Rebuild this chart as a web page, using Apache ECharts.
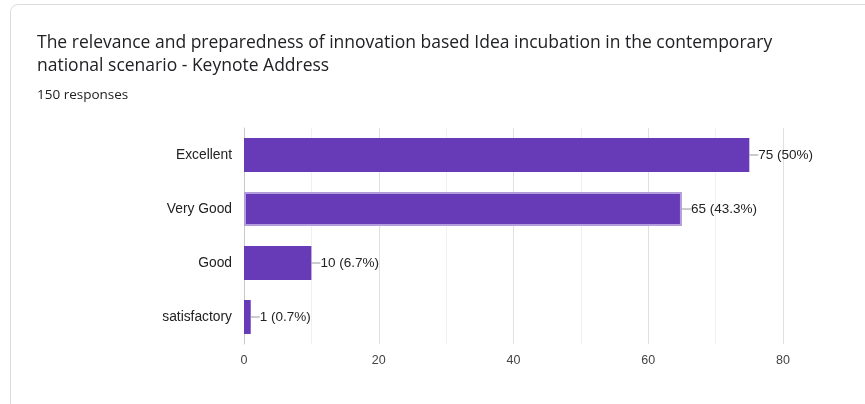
<!DOCTYPE html>
<html><head><meta charset="utf-8">
<script src="https://cdn.jsdelivr.net/npm/echarts@6/dist/echarts.min.js"></script>
<style>
html,body{margin:0;padding:0;background:#fff;}
#card{position:absolute;left:10px;top:4px;width:870px;height:420px;border:1px solid #dadce0;border-radius:8px;}
#c{position:absolute;left:0;top:0;width:865px;height:404px;}
</style></head><body>
<div id="card"></div>
<div id="c"></div>
<script>
var titleLines = ['The relevance and preparedness of innovation based Idea incubation in the contemporary', 'national scenario - Keynote Address'];
var subtitle = '150 responses';
var categories = ['Excellent', 'Very Good', 'Good', 'satisfactory'];
var counts = [75, 65, 10, 1];
var percents = ['50%', '43.3%', '6.7%', '0.7%'];
var ticks = [0, 20, 40, 60, 80];

var chart = echarts.init(document.getElementById('c'), null, {renderer:'canvas'});
var data = counts.map(function(v, i){
  var d = {value: v};
  if (i === 1) {
    d.itemStyle = {borderColor: '#b39ddb', borderWidth: 2};
  }
  return d;
});
chart.setOption({
  animation: false,
  title: [{
    text: titleLines.join('\n'), left: 37, top: 32, padding: 0,
    textStyle: {fontFamily: 'Open Sans', fontSize: 17.5, fontWeight: 'normal', color: '#202124', lineHeight: 23}
  },{
    text: subtitle, left: 37, top: 88, padding: 0,
    textStyle: {fontFamily: 'Open Sans', fontSize: 13.5, fontWeight: 'normal', color: '#202124'}
  }],
  grid: {left: 244, right: 82, top: 128, bottom: 60, containLabel: false},
  xAxis: {
    type: 'value', min: 0, max: 80, interval: 10,
    axisLine: {show: false}, axisTick: {show: false},
    axisLabel: {
      color: '#444', fontFamily: 'Liberation Sans', fontSize: 12.5, margin: 10,
      formatter: function(v){ return ticks.indexOf(v) >= 0 ? String(v) : ''; }
    },
    splitLine: {show: true, lineStyle: {color: ['#e0e0e0','#f0f0f0','#e0e0e0','#f0f0f0','#e0e0e0','#f0f0f0','#e0e0e0','#f0f0f0','#e0e0e0'], width: 1}}
  },
  yAxis: {
    type: 'category', data: categories, inverse: true,
    axisLine: {show: true, lineStyle: {color: '#c8c8c8', width: 1}},
    axisTick: {show: false},
    axisLabel: {color: '#222', fontFamily: 'Liberation Sans', fontSize: 13.8, margin: 12}
  },
  series: [{
    type: 'bar', data: data, barWidth: 34,
    itemStyle: {color: '#673ab7'},
    label: {
      show: true, position: 'right', distance: 0,
      formatter: function(p){ return '{l|}' + p.value + ' (' + percents[p.dataIndex] + ')'; },
      color: '#222', fontFamily: 'Liberation Sans', fontSize: 13.5,
      rich: {l: {width: 9, height: 1, backgroundColor: '#999', padding: 0}}
    }
  }]
});
</script>
</body></html>
